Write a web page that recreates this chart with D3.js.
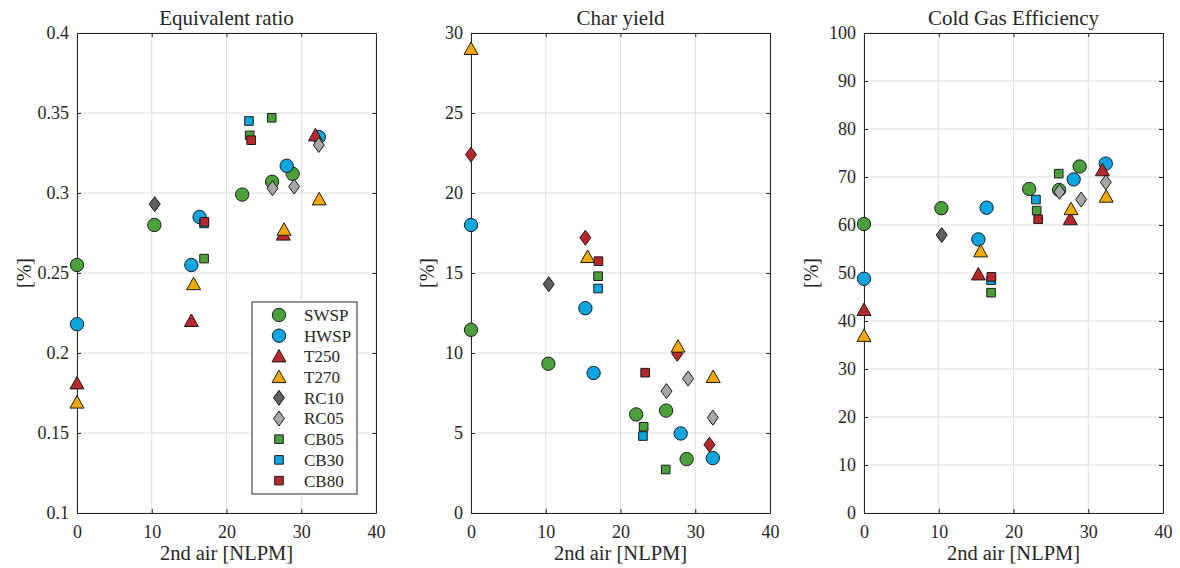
<!DOCTYPE html>
<html>
<head>
<meta charset="utf-8">
<script src="https://cdn.jsdelivr.net/npm/d3@7"></script>
<style>
  body { margin: 0; background: #fff; }
  svg text { font-family: "Liberation Serif", "Times New Roman", serif; fill: #262626; }
</style>
</head>
<body>
<svg id="chart" width="1180" height="568"></svg>
<script>
// series in legend order
var series = ["SWSP", "HWSP", "T250", "T270", "RC10", "RC05", "CB05", "CB30", "CB80"];
var colors = ["#4ba03c", "#0ba6e0", "#b8282a", "#f3a900", "#5f5f5f", "#a7a7a7", "#4ba03c", "#0ba6e0", "#b8282a"];
var shapes = ["circle", "circle", "triangle", "triangle", "diamond", "diamond", "square", "square", "square"];

// 2nd air flow [NLPM] for each series
var airFlow = [
  [0, 10.35, 22.1, 26.1, 28.85],
  [0, 15.3, 16.4, 28.05, 32.35],
  [0, 15.3, 27.6, 31.9],
  [0, 15.6, 27.7, 32.4],
  [10.4],
  [26.15, 29.05, 32.35],
  [17.0, 23.1, 26.05],
  [17.0, 23.0],
  [17.05, 23.3]
];

var equivRatio = [
  [0.255, 0.280, 0.299, 0.307, 0.312],
  [0.218, 0.255, 0.285, 0.317, 0.335],
  [0.181, 0.220, 0.274, 0.336],
  [0.169, 0.243, 0.277, 0.296],
  [0.293],
  [0.303, 0.304, 0.330],
  [0.259, 0.336, 0.347],
  [0.281, 0.345],
  [0.282, 0.333]
];

var charYield = [
  [11.45, 9.33, 6.16, 6.40, 3.37],
  [18.0, 12.8, 8.75, 4.97, 3.43],
  [22.4, 17.2, 9.95, 4.27],
  [29.0, 16.0, 10.4, 8.5],
  [14.3],
  [7.62, 8.40, 5.96],
  [14.8, 5.39, 2.72],
  [14.03, 4.81],
  [15.74, 8.77]
];

var coldGasEff = [
  [60.2, 63.5, 67.5, 67.3, 72.2],
  [48.8, 57.0, 63.6, 69.5, 72.8],
  [42.3, 49.7, 61.2, 71.4],
  [36.9, 54.5, 63.3, 65.9],
  [57.9],
  [66.9, 65.3, 68.9],
  [45.9, 63.0, 70.7],
  [48.5, 65.3],
  [49.2, 61.2]
];

var xTicks = [0, 10, 20, 30, 40];
var erTicks = [0.1, 0.15, 0.2, 0.25, 0.3, 0.35, 0.4];
var charTicks = [0, 5, 10, 15, 20, 25, 30];
var cgeTicks = [0, 10, 20, 30, 40, 50, 60, 70, 80, 90, 100];

var panels = [
  { title: "Equivalent ratio", values: equivRatio, domain: [0.1, 0.4], ticks: erTicks, left: 77, ylab: -46, legend: true },
  { title: "Char yield", values: charYield, domain: [0, 30], ticks: charTicks, left: 471, ylab: -37, override: { 2: "diamond" } },
  { title: "Cold Gas Efficiency", values: coldGasEff, domain: [0, 100], ticks: cgeTicks, left: 864, ylab: -46 }
];

var plotTop = 33, plotW = 299, plotH = 480;
var axisColor = "#262626", gridColor = "#dedede";
var serif = '"Liberation Serif", "Times New Roman", serif';

function markerPath(shape) {
  if (shape == "circle") return d3.symbol(d3.symbolCircle, 140)();
  if (shape == "square") return "M-4.3,-4.3H4.3V4.3H-4.3Z";
  if (shape == "triangle") return "M0,-7L7,5.5H-7Z";
  if (shape == "diamond") return "M0,-7.5L5.5,0L0,7.5L-5.5,0Z";
}

var svg = d3.select("#chart");

panels.forEach(function(p) {
  var x = d3.scaleLinear().domain([0, 40]).range([0, plotW]);
  var y = d3.scaleLinear().domain(p.domain).range([plotH, 0]);

  var g = svg.append("g").attr("transform", "translate(" + p.left + "," + plotTop + ")");

  // grid
  g.append("g").selectAll("line").data(xTicks).enter().append("line")
    .attr("x1", x).attr("x2", x).attr("y1", 0).attr("y2", plotH)
    .attr("stroke", gridColor);
  g.append("g").selectAll("line").data(p.ticks).enter().append("line")
    .attr("y1", y).attr("y2", y).attr("x1", 0).attr("x2", plotW)
    .attr("stroke", gridColor);

  // axes, ticks inward on all four sides
  var fmt = function(d) { return String(d); };
  g.append("g").attr("transform", "translate(0," + plotH + ")")
    .call(d3.axisBottom(x).tickValues(xTicks).tickFormat(fmt).tickSizeInner(-4).tickSizeOuter(0).tickPadding(12));
  g.append("g")
    .call(d3.axisTop(x).tickValues(xTicks).tickFormat("").tickSizeInner(-4).tickSizeOuter(0));
  g.append("g")
    .call(d3.axisLeft(y).tickValues(p.ticks).tickFormat(fmt).tickSizeInner(-4).tickSizeOuter(0).tickPadding(8));
  g.append("g").attr("transform", "translate(" + plotW + ",0)")
    .call(d3.axisRight(y).tickValues(p.ticks).tickFormat("").tickSizeInner(-4).tickSizeOuter(0));

  g.selectAll(".domain").attr("stroke", axisColor);
  g.selectAll(".tick line").attr("stroke", axisColor);
  g.selectAll(".tick text").style("font-size", "18px").style("font-family", serif).attr("fill", axisColor);

  // labels
  g.append("text").attr("x", plotW / 2).attr("y", -8)
    .attr("text-anchor", "middle").style("font-size", "21px").style("font-family", serif).text(p.title);
  g.append("text").attr("x", plotW / 2).attr("y", plotH + 47)
    .attr("text-anchor", "middle").style("font-size", "20.5px").style("font-family", serif).text("2nd air [NLPM]");
  g.append("text").attr("transform", "translate(" + p.ylab + "," + (plotH / 2) + ") rotate(-90)")
    .attr("text-anchor", "middle").style("font-size", "20px").style("font-family", serif).text("[%]");

  // points
  series.forEach(function(s, i) {
    var shape = (p.override && p.override[i]) || shapes[i];
    var pts = airFlow[i].map(function(v, j) { return [v, p.values[i][j]]; });
    g.append("g").selectAll("path").data(pts).enter().append("path")
      .attr("d", markerPath(shape))
      .attr("transform", function(d) { return "translate(" + x(d[0]) + "," + y(d[1]) + ")"; })
      .attr("fill", colors[i])
      .attr("stroke", "#1a1a1a")
      .attr("stroke-width", 1);
  });

  if (p.legend) {
    var lg = g.append("g").attr("transform", "translate(" + (252 - p.left) + "," + (302 - plotTop) + ")");
    lg.append("rect").attr("width", 105).attr("height", 192)
      .attr("fill", "#fff").attr("stroke", axisColor);
    var item = lg.selectAll("g.item").data(series).enter().append("g")
      .attr("transform", function(d, i) { return "translate(27," + (13 + i * 20.7) + ")"; });
    item.append("path")
      .attr("d", function(d, i) { return markerPath(shapes[i]); })
      .attr("fill", function(d, i) { return colors[i]; })
      .attr("stroke", "#1a1a1a");
    item.append("text").attr("x", 25).attr("dy", "0.35em")
      .style("font-size", "17px").style("font-family", serif).text(function(d) { return d; });
  }
});
</script>
</body>
</html>
